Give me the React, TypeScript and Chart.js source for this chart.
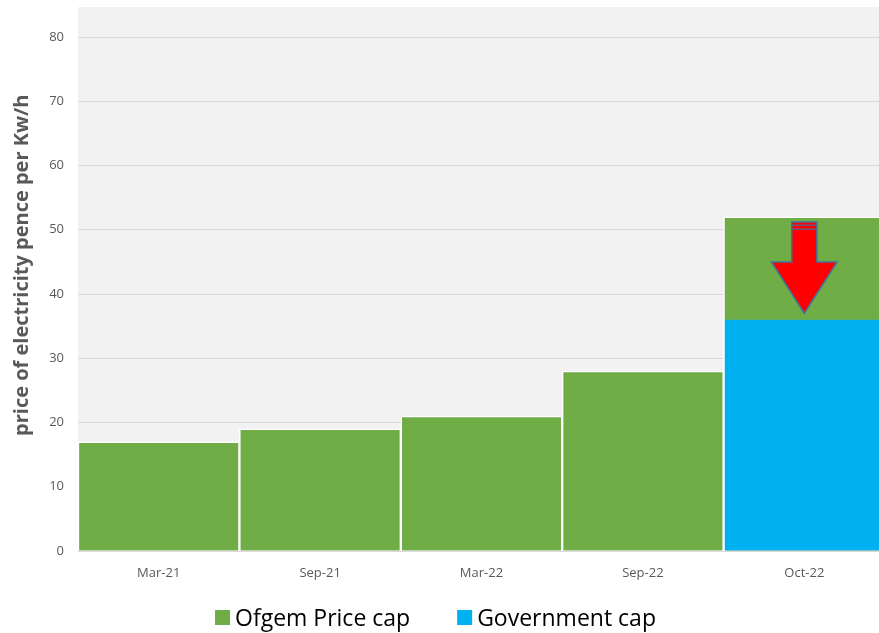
import React, { useEffect, useRef } from "react";
import { Chart, registerables } from "chart.js";

Chart.register(...registerables);

const categories = ["Mar-21", "Sep-21", "Mar-22", "Sep-22", "Oct-22"];
const ofgemValues = [17, 19, 21, 28, 52];
const governmentValues = [null, null, null, null, 36];
const yTicks = [0, 10, 20, 30, 40, 50, 60, 70, 80];
const yTitle = "price of electricity pence per Kw/h";
// arrow annotation on Oct-22 (value units)
const arrowCategory = "Oct-22";
const arrowTop = 51.2;
const arrowStripes = [50.7, 50.1];
const arrowShaftBottom = 45;
const arrowTip = 37;

const FONT = "'Open Sans', sans-serif";
const TEXT = "#595959";
const VIEW_W = 879;
const CANVAS_W = 885;
const VIEW_H = 633;

const bgPlugin = {
  id: "plotBg",
  beforeDraw(chart: any) {
    const { ctx, chartArea } = chart;
    ctx.save();
    ctx.fillStyle = "#f2f2f2";
    ctx.fillRect(chartArea.left, chartArea.top - 30, chartArea.right - chartArea.left, chartArea.bottom - chartArea.top + 30);
    ctx.restore();
  },
};

const titlePlugin = {
  id: "yTitle",
  afterDraw(chart: any) {
    const { ctx, chartArea } = chart;
    const cy = chartArea.top + (chartArea.bottom - chartArea.top) * 0.444;
    ctx.save();
    ctx.translate(22, cy);
    ctx.rotate(-Math.PI / 2);
    ctx.font = `bold 20px ${FONT}`;
    ctx.fillStyle = TEXT;
    ctx.textAlign = "center";
    ctx.textBaseline = "middle";
    ctx.fillText(yTitle, 0, 0);
    ctx.restore();
  },
};

const legendPlugin = {
  id: "customLegend",
  afterDraw(chart: any) {
    const { ctx, height } = chart;
    const items = chart.data.datasets.map((d: any) => ({ text: d.label, color: d.backgroundColor }));
    ctx.save();
    ctx.font = `23px ${FONT}`;
    const box = 15;
    const gapText = 5;
    const gapItem = 47;
    const widths = items.map((it: any) => box + gapText + ctx.measureText(it.text).width);
    const total = widths.reduce((a: number, b: number) => a + b, 0) + gapItem * (items.length - 1);
    let x = (VIEW_W - total) / 2 - 4;
    const cy = height - 15.5;
    items.forEach((it: any, i: number) => {
      ctx.fillStyle = it.color;
      ctx.fillRect(x, cy - box / 2, box, box);
      ctx.fillStyle = "#000000";
      ctx.textAlign = "left";
      ctx.textBaseline = "alphabetic";
      ctx.fillText(it.text, x + box + gapText, cy + 8.5);
      x += widths[i] + gapItem;
    });
    ctx.restore();
  },
};

const arrowPlugin = {
  id: "arrow",
  afterDatasetsDraw(chart: any) {
    const { ctx, scales } = chart;
    const x = scales.x.getPixelForValue(categories.indexOf(arrowCategory));
    const w = (scales.x.right - scales.x.left) / categories.length;
    const shaftHalf = w * 0.078;
    const headHalf = w * 0.203;
    const yTop = scales.y.getPixelForValue(arrowTop);
    const yBase = scales.y.getPixelForValue(arrowShaftBottom);
    const yTip = scales.y.getPixelForValue(arrowTip);
    ctx.save();
    ctx.beginPath();
    ctx.moveTo(x - shaftHalf, yTop);
    ctx.lineTo(x + shaftHalf, yTop);
    ctx.lineTo(x + shaftHalf, yBase);
    ctx.lineTo(x + headHalf, yBase);
    ctx.lineTo(x, yTip);
    ctx.lineTo(x - headHalf, yBase);
    ctx.lineTo(x - shaftHalf, yBase);
    ctx.closePath();
    ctx.fillStyle = "#ff0000";
    ctx.fill();
    ctx.strokeStyle = "#41719c";
    ctx.lineWidth = 1.5;
    ctx.stroke();
    ctx.lineWidth = 1.2;
    arrowStripes.forEach((v) => {
      const y = scales.y.getPixelForValue(v);
      ctx.beginPath();
      ctx.moveTo(x - shaftHalf, y);
      ctx.lineTo(x + shaftHalf, y);
      ctx.stroke();
    });
    ctx.restore();
  },
};

export default function App() {
  const ref = useRef<HTMLCanvasElement>(null);
  useEffect(() => {
    const chart = new Chart(ref.current!, {
      type: "bar",
      data: {
        labels: categories,
        datasets: [
          {
            label: "Ofgem Price cap",
            data: ofgemValues,
            backgroundColor: "#70ad47",
            borderColor: "#ffffff",
            borderWidth: 1.5,
            borderSkipped: "bottom",
            order: 2,
          },
          {
            label: "Government cap",
            data: governmentValues as any,
            backgroundColor: "#00b0f0",
            borderColor: "#ffffff",
            borderWidth: { left: 1.5, right: 1.5, top: 0, bottom: 0 },
            order: 1,
          },
        ],
      },
      options: {
        responsive: false,
        animation: false,
        maintainAspectRatio: false,
        layout: { padding: { top: 37, right: 0, left: 0, bottom: 50 } },
        datasets: { bar: { grouped: false, barPercentage: 1, categoryPercentage: 1 } },
        plugins: {
          tooltip: { enabled: false },
          legend: { display: false },
        },
        scales: {
          x: {
            grid: { display: false, drawTicks: false },
            border: { display: false },
            ticks: { color: TEXT, font: { family: FONT, size: 13 }, padding: 14, maxRotation: 0 },
            afterFit: (s: any) => { s.height = 32; },
          },
          y: {
            min: 0,
            max: 80,
            afterBuildTicks: (s: any) => { s.ticks = yTicks.map((v) => ({ value: v })); },
            grid: { color: "#d9d9d9", drawTicks: false },
            border: { display: false },
            ticks: { color: TEXT, font: { family: FONT, size: 13 }, padding: 14 },
            title: { display: false },
            afterFit: (s: any) => { s.width = 78; },
          },
        },
      },
      plugins: [bgPlugin, arrowPlugin, titlePlugin, legendPlugin],
    });
    return () => chart.destroy();
  }, []);
  return (
    <div style={{ position: "absolute", left: 0, top: 0, width: VIEW_W, height: VIEW_H, overflow: "hidden", background: "#fff" }}>
      <canvas ref={ref} width={CANVAS_W} height={VIEW_H} style={{ display: "block" }} />
    </div>
  );
}
